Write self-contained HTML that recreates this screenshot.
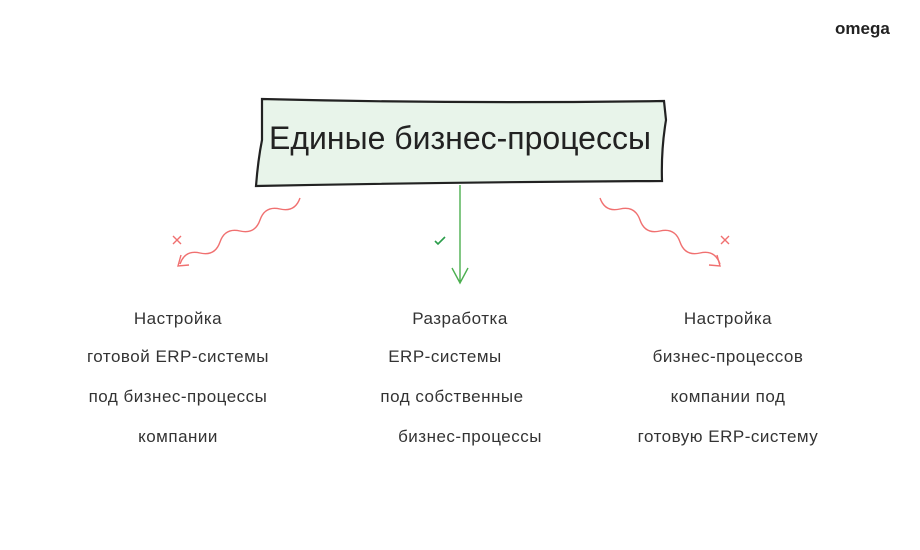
<!DOCTYPE html><html><head><meta charset="utf-8"><style>
body{margin:0;width:920px;height:550px;background:#fff;position:relative;overflow:hidden;font-family:"Liberation Sans",sans-serif;}
.t{position:absolute;text-align:center;font-size:17px;color:#333;width:300px;letter-spacing:0.5px}
</style></head><body>
<div style="position:absolute;left:835px;top:19px;font-weight:bold;font-size:17px;color:#222">omega</div>
<svg width="920" height="550" style="position:absolute;left:0;top:0">
<path d="M262 99 Q460 104 664 101 L666 120 Q661 150 662 181 Q460 182 256 186 Q258 160 262 140 Z" fill="#e8f4ea" stroke="#222" stroke-width="2.2"/>
<path d="M300 198 q-5 14.5 -20 11 q-15 -3.5 -20 11 q-5 14.5 -20 11 q-15 -3.5 -20 11 q-5 14.5 -20 11 q-15 -3.5 -20 11" fill="none" stroke="#f07070" stroke-width="1.4"/>
<path d="M181 255 l-3 11 l11 -1" fill="none" stroke="#f07070" stroke-width="1.4"/>
<path d="M600 198 q5 14.5 20 11 q15 -3.5 20 11 q5 14.5 20 11 q15 -3.5 20 11 q5 14.5 20 11 q15 -3.5 20 11" fill="none" stroke="#f07070" stroke-width="1.4"/>
<path d="M709 265 l11 1 l-3 -11" fill="none" stroke="#f07070" stroke-width="1.4"/>
<path d="M460 185 L460 283 M452 268 L460 283 L468 268" fill="none" stroke="#4caf50" stroke-width="1.4"/>
<path d="M173 236 l8 8 M181 236 l-8 8 M721 236 l8 8 M729 236 l-8 8" stroke="#f07070" stroke-width="1.4"/>
<path d="M435 241 l3 3 l7 -7" fill="none" stroke="#2a9d4a" stroke-width="1.6"/>
</svg>
<div class="t" style="left:160px;top:120px;width:600px;font-size:32px;letter-spacing:0;color:#222">Единые бизнес-процессы</div>
<div class="t" style="left:28px;top:309px">Настройка</div>
<div class="t" style="left:28px;top:347px">готовой ERP-системы</div>
<div class="t" style="left:28px;top:387px">под бизнес-процессы</div>
<div class="t" style="left:28px;top:427px">компании</div>
<div class="t" style="left:310px;top:309px">Разработка</div>
<div class="t" style="left:295px;top:347px">ERP-системы</div>
<div class="t" style="left:302px;top:387px">под собственные</div>
<div class="t" style="left:320px;top:427px">бизнес-процессы</div>
<div class="t" style="left:578px;top:309px">Настройка</div>
<div class="t" style="left:578px;top:347px">бизнес-процессов</div>
<div class="t" style="left:578px;top:387px">компании под</div>
<div class="t" style="left:578px;top:427px">готовую ERP-систему</div>
</body></html>
